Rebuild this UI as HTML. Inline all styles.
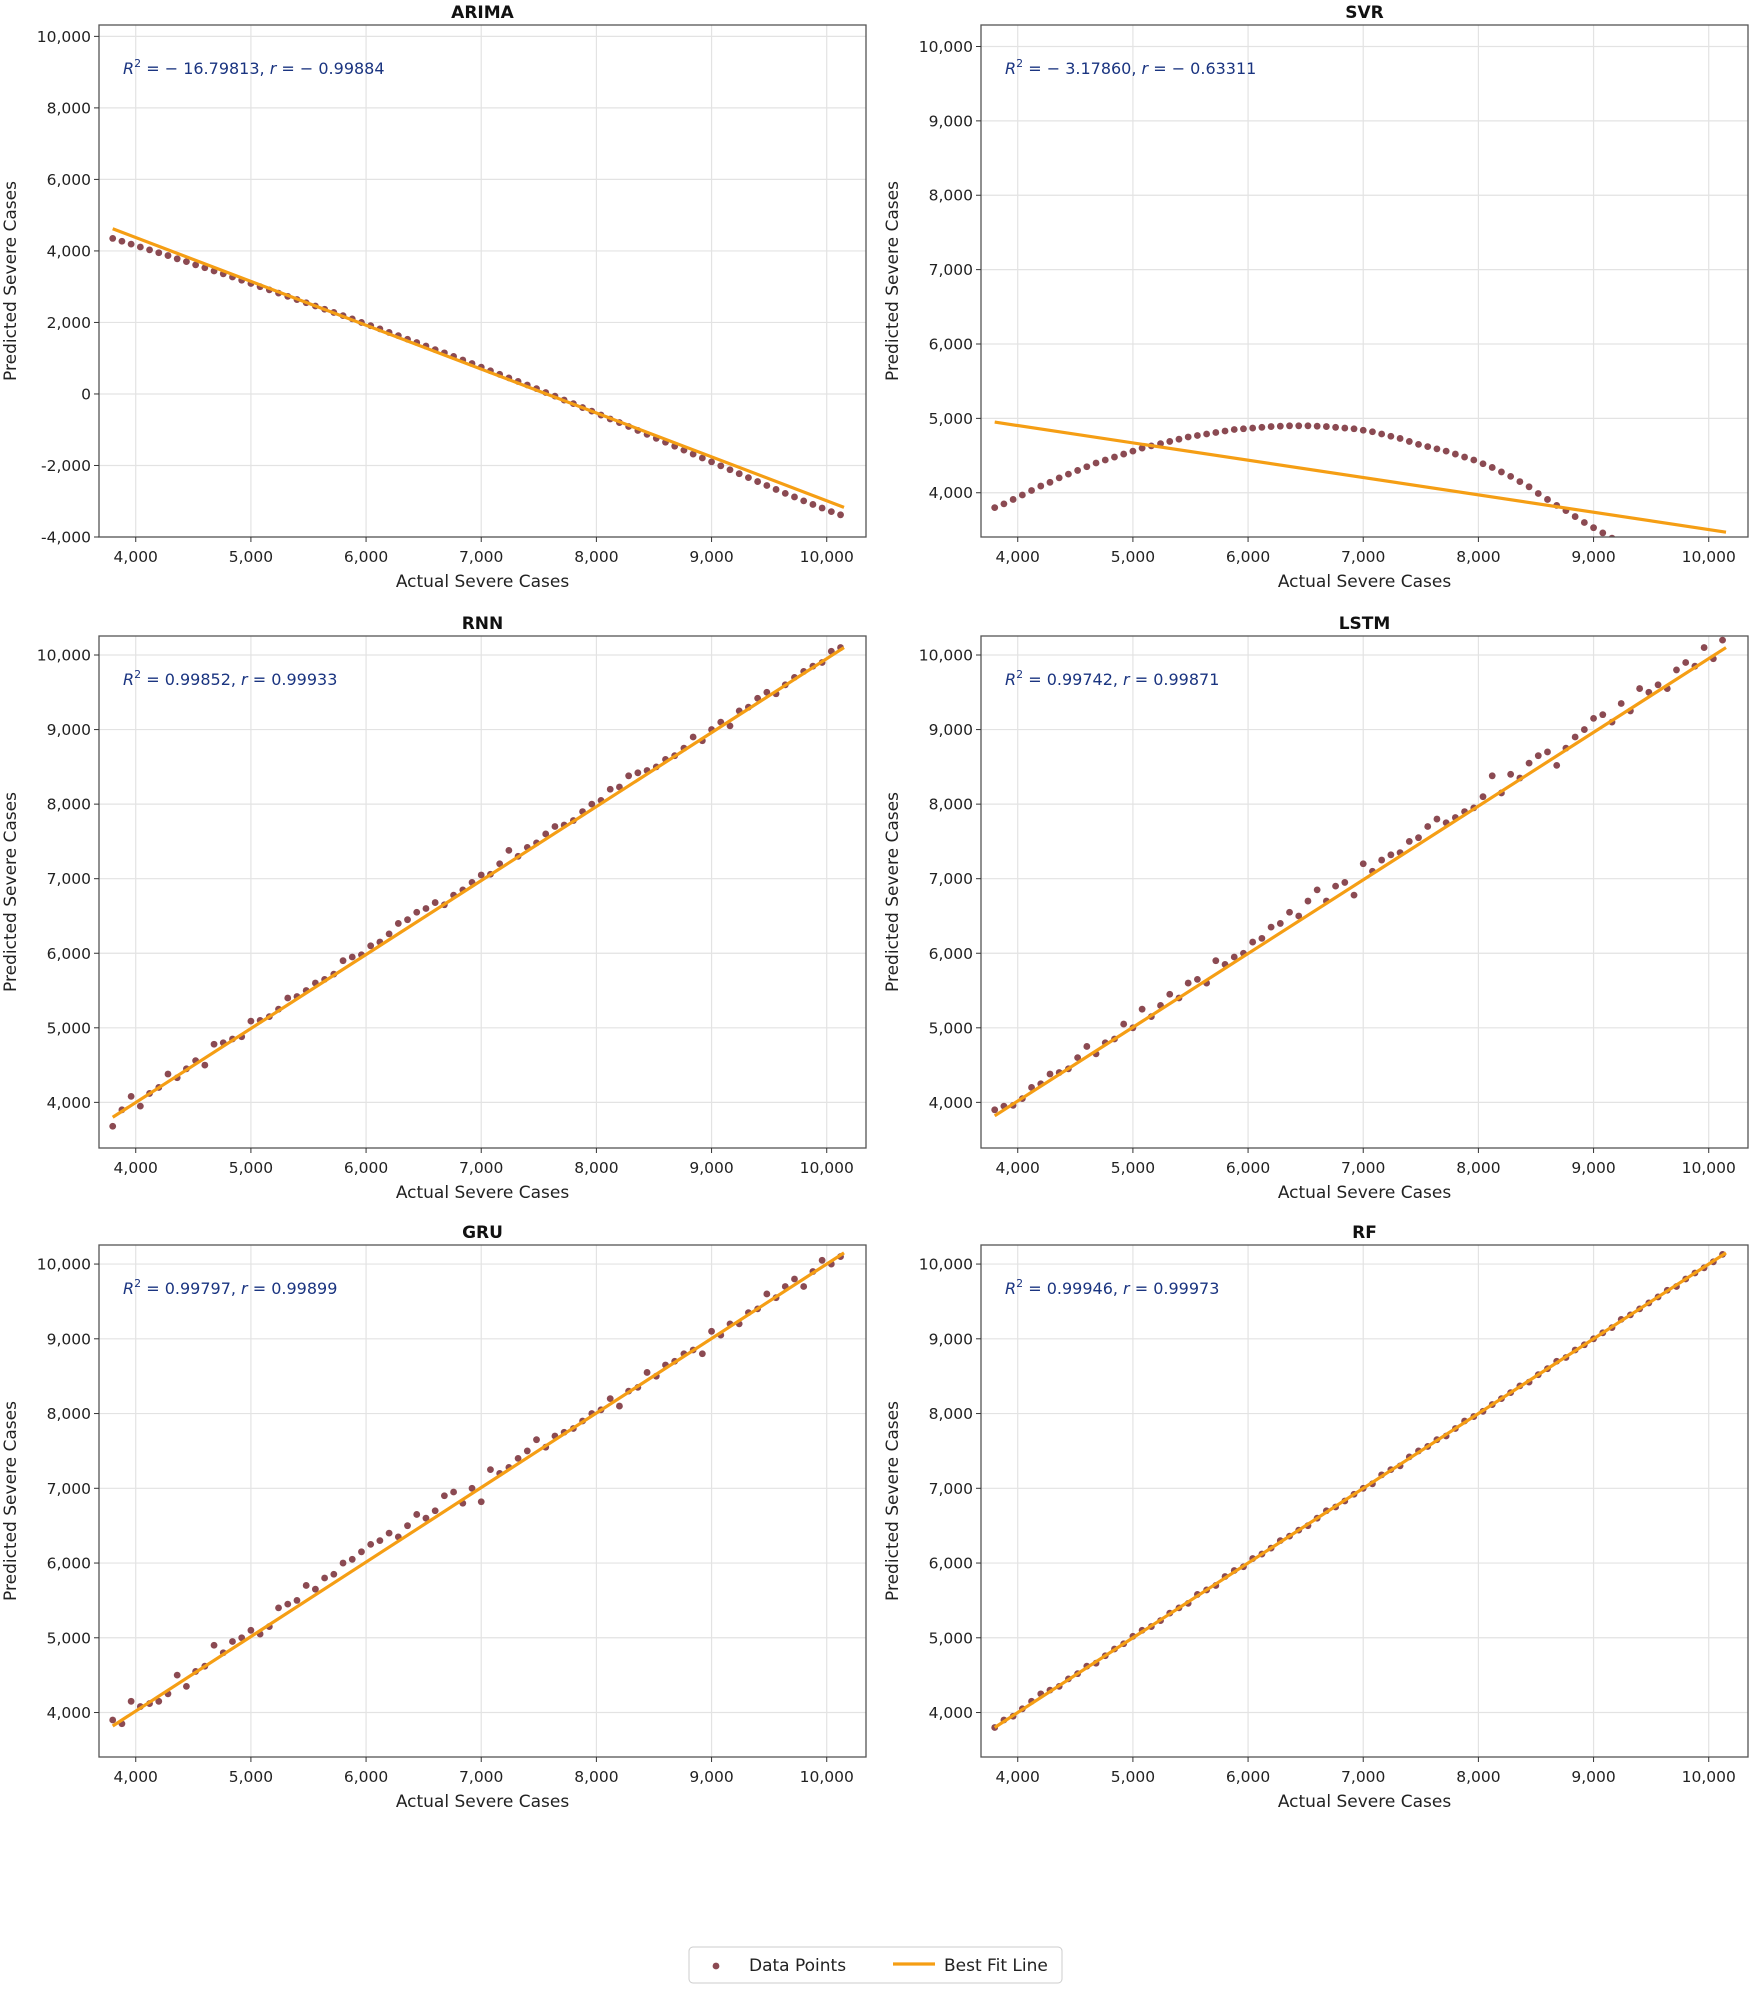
<!DOCTYPE html>
<html><head><meta charset="utf-8">
<style>
html,body{margin:0;padding:0;background:#fff;}
svg{display:block;font-family:"DejaVu Sans","Liberation Sans",sans-serif;}
</style></head>
<body>
<svg id="fig" width="1755" height="1989" viewBox="0 0 1755 1989" xmlns="http://www.w3.org/2000/svg"></svg>
<script>
const actual = [3800,3880,3960,4040,4120,4200,4280,4360,4440,4520,4600,4680,4760,4840,4920,5000,5080,5160,5240,5320,5400,5480,5560,5640,5720,5800,5880,5960,6040,6120,6200,6280,6360,6440,6520,6600,6680,6760,6840,6920,7000,7080,7160,7240,7320,7400,7480,7560,7640,7720,7800,7880,7960,8040,8120,8200,8280,8360,8440,8520,8600,8680,8760,8840,8920,9000,9080,9160,9240,9320,9400,9480,9560,9640,9720,9800,9880,9960,10040,10120];
const predARIMA = [4350,4270,4190,4110,4030,3950,3870,3780,3700,3610,3530,3440,3360,3270,3180,3090,3000,2910,2820,2730,2640,2550,2460,2370,2280,2190,2100,2000,1910,1820,1720,1630,1530,1440,1340,1240,1150,1050,950,850,750,650,550,450,350,250,150,40,-60,-170,-270,-380,-480,-590,-700,-800,-910,-1020,-1130,-1240,-1350,-1460,-1570,-1680,-1790,-1900,-2010,-2120,-2230,-2340,-2450,-2560,-2670,-2780,-2880,-2990,-3090,-3190,-3290,-3380];
const predSVR = [3800,3850,3910,3970,4030,4090,4140,4200,4250,4300,4350,4400,4440,4480,4520,4560,4600,4630,4660,4690,4720,4750,4770,4790,4810,4830,4850,4860,4870,4880,4890,4895,4900,4900,4900,4895,4890,4880,4870,4860,4840,4820,4790,4760,4730,4690,4650,4620,4590,4560,4520,4480,4440,4390,4340,4280,4220,4150,4080,3990,3910,3830,3760,3680,3600,3530,3460,3390,3320,3250,3180,3110,3040,2970,2900,2830,2760,2690,2620,2550];
const predRNN = [3680,3900,4080,3950,4120,4200,4380,4330,4450,4560,4500,4780,4800,4850,4880,5090,5100,5150,5250,5400,5420,5500,5600,5650,5720,5900,5950,5980,6100,6150,6260,6400,6450,6550,6600,6680,6650,6780,6850,6950,7050,7060,7200,7380,7300,7420,7480,7600,7700,7720,7780,7900,8000,8050,8200,8230,8380,8420,8450,8500,8600,8650,8750,8900,8850,9000,9100,9050,9250,9300,9420,9500,9480,9600,9700,9780,9850,9900,10050,10100];
const predLSTM = [3900,3950,3960,4050,4200,4250,4380,4400,4450,4600,4750,4650,4800,4850,5050,5000,5250,5150,5300,5450,5400,5600,5650,5600,5900,5850,5950,6000,6150,6200,6350,6400,6550,6500,6700,6850,6700,6900,6950,6780,7200,7100,7250,7320,7350,7500,7550,7700,7800,7750,7820,7900,7950,8100,8380,8150,8400,8350,8550,8650,8700,8520,8750,8900,9000,9150,9200,9100,9350,9250,9550,9500,9600,9550,9800,9900,9850,10100,9950,10200];
const predGRU = [3900,3850,4150,4080,4120,4150,4250,4500,4350,4550,4620,4900,4800,4950,5000,5100,5050,5150,5400,5450,5500,5700,5650,5800,5850,6000,6050,6150,6250,6300,6400,6350,6500,6650,6600,6700,6900,6950,6800,7000,6820,7250,7200,7280,7400,7500,7650,7550,7700,7750,7800,7900,8000,8050,8200,8100,8300,8350,8550,8500,8650,8700,8800,8850,8800,9100,9050,9200,9200,9350,9400,9600,9550,9700,9800,9700,9900,10050,10000,10100];
const predRF = [3800,3900,3950,4050,4150,4250,4300,4350,4450,4520,4620,4660,4760,4850,4920,5020,5100,5150,5230,5330,5400,5460,5580,5640,5700,5820,5900,5950,6060,6120,6200,6300,6360,6440,6500,6600,6700,6750,6830,6920,7000,7060,7180,7250,7300,7420,7500,7560,7650,7700,7800,7900,7960,8030,8120,8200,8280,8370,8420,8520,8600,8700,8750,8850,8920,9000,9080,9150,9260,9320,9400,9480,9560,9650,9700,9800,9880,9950,10030,10130];
const fitX = [3800,10150];
const fitARIMA = [4620,-3170];
const fitSVR = [4950,3470];
const fitRNN = [3800,10100];
const fitLSTM = [3820,10100];
const fitGRU = [3820,10150];
const fitRF = [3800,10150];
const xTicks = [4000,5000,6000,7000,8000,9000,10000];
const yTicksARIMA = [-4000,-2000,0,2000,4000,6000,8000,10000];
const yTicksStd = [4000,5000,6000,7000,8000,9000,10000];
const titles = ["ARIMA","SVR","RNN","LSTM","GRU","RF"];
const r2Labels = ["\u2212 16.79813","\u2212 3.17860","0.99852","0.99742","0.99797","0.99946"];
const rLabels = ["\u2212 0.99884","\u2212 0.63311","0.99933","0.99871","0.99899","0.99973"];

const NS="http://www.w3.org/2000/svg";
const svg=document.getElementById('fig');
function mk(tag,attrs,parent){const e=document.createElementNS(NS,tag);for(const k in attrs)e.setAttribute(k,attrs[k]);(parent||svg).appendChild(e);return e;}
function fmt(v){const s=Math.abs(v).toLocaleString('en-US');return (v<0?'-':'')+s;}

const panels=[
 {x0:99,y0:25,ys:predARIMA,fit:fitARIMA,yd:[-4000,10318],yt:yTicksARIMA},
 {x0:981,y0:25,ys:predSVR,fit:fitSVR,yd:[3405,10289],yt:yTicksStd},
 {x0:99,y0:636,ys:predRNN,fit:fitRNN,yd:[3388,10255],yt:yTicksStd},
 {x0:981,y0:636,ys:predLSTM,fit:fitLSTM,yd:[3388,10255],yt:yTicksStd},
 {x0:99,y0:1245,ys:predGRU,fit:fitGRU,yd:[3405,10255],yt:yTicksStd},
 {x0:981,y0:1245,ys:predRF,fit:fitRF,yd:[3405,10255],yt:yTicksStd}
];
const W=767,H=512,XD=[3681,10341];

panels.forEach((p,i)=>{
  const g=mk('g',{});
  
  
  const sx=v=>p.x0+(v-XD[0])/(XD[1]-XD[0])*W;
  const sy=v=>p.y0+H-(v-p.yd[0])/(p.yd[1]-p.yd[0])*H;
  const cid='clip'+i;
  const cp=mk('clipPath',{id:cid},g);mk('rect',{x:p.x0,y:p.y0,width:W,height:H},cp);
  xTicks.forEach(t=>{const l=mk('line',{x1:sx(t),x2:sx(t),y1:p.y0,y2:p.y0+H,stroke:'#e3e3e3','stroke-width':1.2},g);
    });
  p.yt.forEach(t=>{const l=mk('line',{x1:p.x0,x2:p.x0+W,y1:sy(t),y2:sy(t),stroke:'#e3e3e3','stroke-width':1.2},g);
    });
  const pg=mk('g',{'clip-path':'url(#'+cid+')'},g);
  const n=Math.min(actual.length,p.ys.length);
  for(let k=0;k<n;k++){
    const c=mk('circle',{cx:sx(actual[k]),cy:sy(p.ys[k]),r:3.4,fill:'#8b4a52'},pg);
    
    
  }
  const fl=mk('line',{x1:sx(fitX[0]),y1:sy(p.fit[0]),x2:sx(fitX[1]),y2:sy(p.fit[1]),stroke:'#f59e14','stroke-width':3.2},pg);
  
  
  const fr=mk('rect',{x:p.x0,y:p.y0,width:W,height:H,fill:'none',stroke:'#555','stroke-width':1.3},g);
  
  xTicks.forEach(t=>{mk('line',{x1:sx(t),x2:sx(t),y1:p.y0+H,y2:p.y0+H+5,stroke:'#333'},g);
    const tx=mk('text',{x:sx(t),y:p.y0+H+25,'text-anchor':'middle','font-size':15.5,fill:'#222'},g);tx.textContent=fmt(t);
    });
  p.yt.forEach(t=>{mk('line',{x1:p.x0-5,x2:p.x0,y1:sy(t),y2:sy(t),stroke:'#333'},g);
    const tx=mk('text',{x:p.x0-8,y:sy(t)+5.5,'text-anchor':'end','font-size':15.5,fill:'#222'},g);tx.textContent=fmt(t);
    });
  const tt=mk('text',{x:p.x0+W/2,y:p.y0-7,'text-anchor':'middle','font-size':17,'font-weight':'bold',fill:'#111'},g);tt.textContent=titles[i];
  
  const xl=mk('text',{x:p.x0+W/2,y:p.y0+H+50,'text-anchor':'middle','font-size':17,fill:'#222'},g);xl.textContent='Actual Severe Cases';
  
  const yx=p.x0-83, yy=p.y0+H/2;
  const yl=mk('text',{x:yx,y:yy,'text-anchor':'middle','font-size':17,fill:'#222',transform:'rotate(-90 '+yx+' '+yy+')'},g);yl.textContent='Predicted Severe Cases';
  
  const an=mk('text',{x:p.x0+24,y:p.y0+49,'font-size':16,fill:'#1a3480'},g);
  
  an.innerHTML='<tspan font-style="italic">R</tspan><tspan font-size="11" dy="-7">2</tspan><tspan dy="7"> = '+r2Labels[i]+',  </tspan><tspan font-style="italic">r</tspan><tspan> = '+rLabels[i]+'</tspan>';
});
const lg=mk('g',{});

mk('rect',{x:689,y:1947,width:373,height:36,rx:4,fill:'#fff',stroke:'#ccc'},lg);
const ld=mk('circle',{cx:716,cy:1966,r:3.4,fill:'#8b4a52'},lg);

const lt1=mk('text',{x:749,y:1971,'font-size':17,fill:'#222'},lg);lt1.textContent='Data Points';

const ll=mk('line',{x1:893,x2:935,y1:1964,y2:1964,stroke:'#f59e14','stroke-width':3.2},lg);

const lt2=mk('text',{x:944,y:1971,'font-size':17,fill:'#222'},lg);lt2.textContent='Best Fit Line';

</script>
</body></html>
